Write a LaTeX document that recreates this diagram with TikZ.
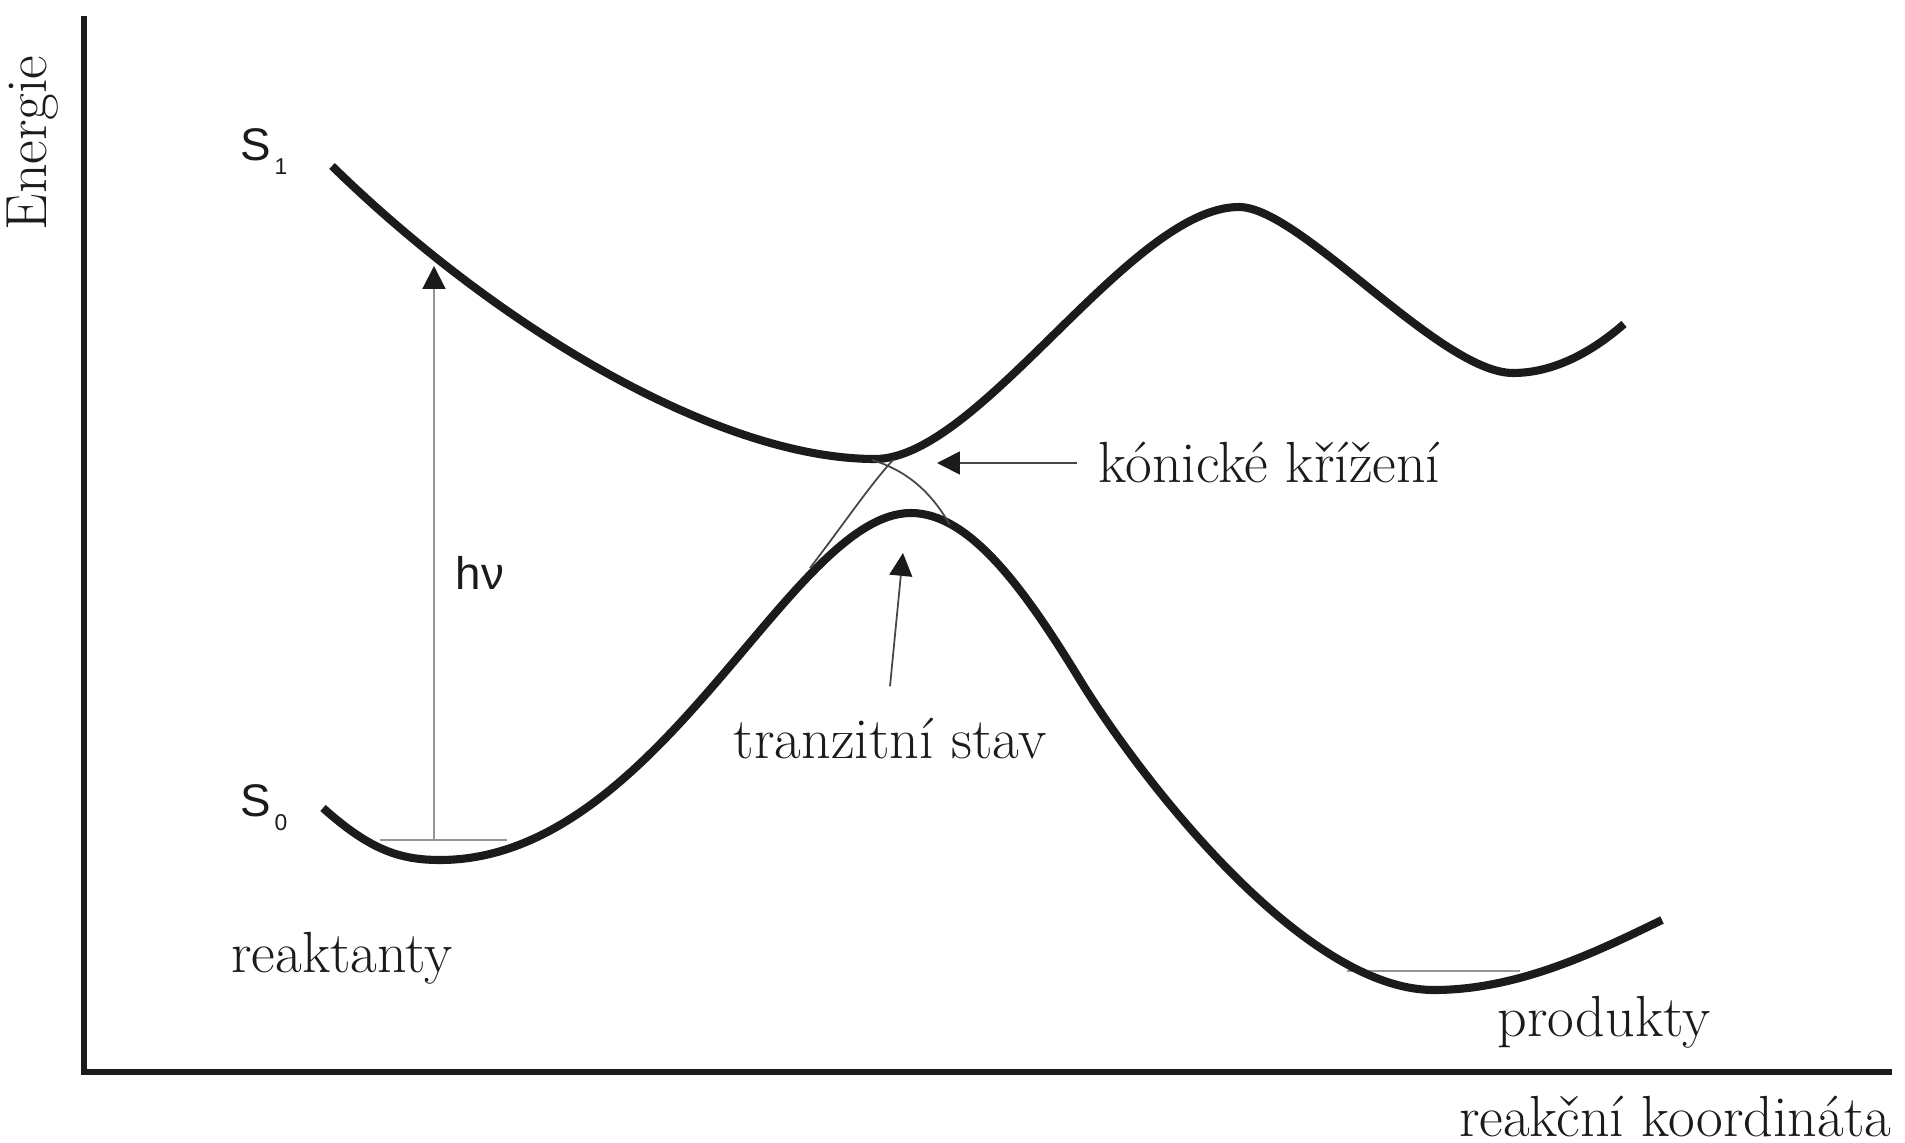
\documentclass[tikz,border=0pt]{standalone}
\usepackage{fontspec}
\newfontfamily\sansf{Liberation Sans}
\usepackage{tikz}
\usetikzlibrary{arrows.meta}
\definecolor{curvec}{RGB}{28,26,26}
\definecolor{levelc}{RGB}{150,150,150}
\definecolor{thinc}{RGB}{70,70,70}

\begin{document}
\begin{tikzpicture}[x=0.01cm,y=-0.01cm,>={Triangle[length=6.5pt,width=6.5pt,color=curvec]},
  pes/.style={curvec,line width=2.3pt},
  lab/.style={inner sep=0pt,anchor=base,font=\fontsize{16.5}{19}\selectfont,text=curvec},
  slab/.style={inner sep=0pt,font=\sansf\fontsize{13}{15}\selectfont,text=curvec},
  ptr/.style={->,thinc,line width=.5pt}]
\useasboundingbox (0,0) rectangle (1905,1143);
\draw[curvec,line width=1.5pt] (84,16)--(84,1072)--(1892,1072);
\node[lab,rotate=90] (energie) at (46,143){Energie};
\node[lab,anchor=base east] (koord) at (1892,1136){reakční koordináta};
\node[lab] (reakt) at (342,972){reaktanty};
\node[lab] (prod) at (1604,1037){produkty};
\node[slab] (s1) at (264,152){S\kern1pt\raisebox{-4pt}{\fontsize{6.5}{7}\selectfont 1}};
\node[slab] (s0) at (264,808){S\kern1pt\raisebox{-4pt}{\fontsize{6.5}{7}\selectfont 0}};
\node[slab] (hnu) at (480,573){hν};
\draw[levelc,line width=.8pt] (380,840)--(507,840);
\draw[levelc,line width=.8pt] (1347,971)--(1520,971);
\coordinate (hnuBot) at (434,840);
\coordinate (hnuTop) at (434,266);
\draw[->,levelc,line width=.6pt] (hnuBot)--(hnuTop);
\draw[pes] (332,166) .. controls (500,330) and (720,459) .. (875,459) .. controls (980,459) and (1130,207) .. (1239,207) .. controls (1300,207) and (1440,373) .. (1513,373) .. controls (1560,373) and (1600,345) .. (1624,324);
\draw[pes] (323,808) .. controls (370,850) and (400,860) .. (440,860) .. controls (660,860) and (790,513) .. (911,513) .. controls (970,513) and (1025,590) .. (1080,680) .. controls (1135,770) and (1300,990) .. (1434,990) .. controls (1520,990) and (1600,950) .. (1662,920);
\draw[thinc,line width=.5pt] (810,568) .. controls (843,525) and (870,485) .. (893,460);
\draw[thinc,line width=.5pt] (872,460) .. controls (905,470) and (930,490) .. (950,525);
\node[lab,anchor=base west] (ci) at (1098,483){kónické křížení};
\node[lab] (ts) at (890,759){tranzitní stav};
\coordinate (ciTip) at (937,463);
\coordinate (tsTip) at (903,553);
\draw[ptr] ([xshift=-6pt]ci.west)--(ciTip);
\draw[ptr] ([yshift=9pt]ts.north)--(tsTip);
\end{tikzpicture}
\end{document}
